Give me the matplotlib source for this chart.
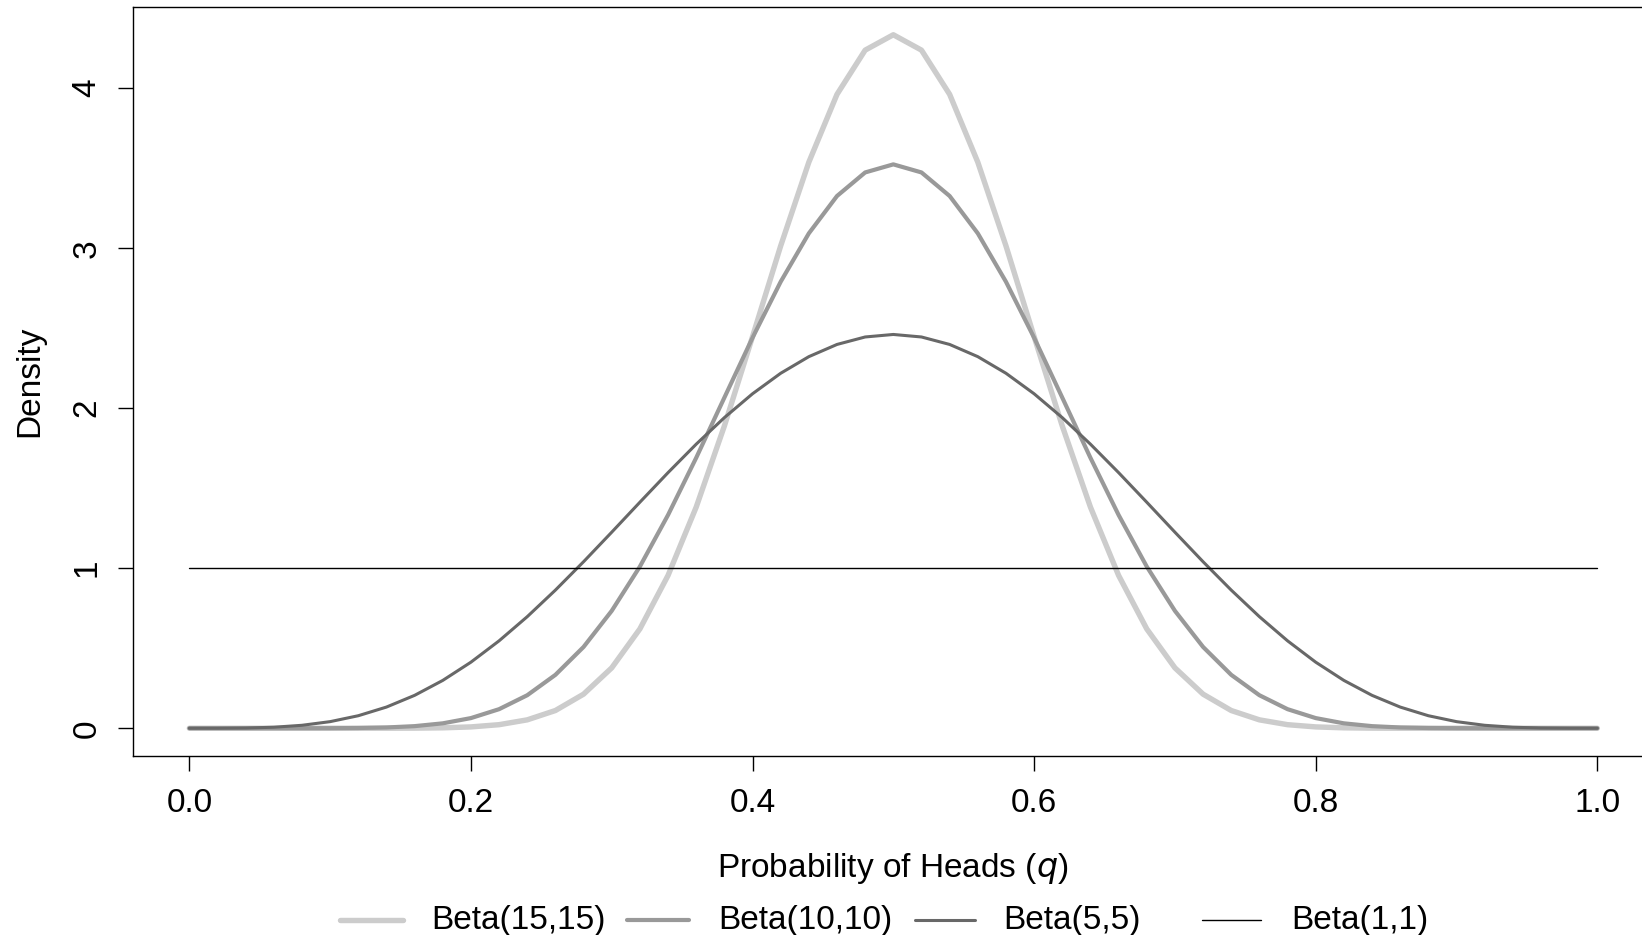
import matplotlib
matplotlib.use("Agg")
import matplotlib.pyplot as plt
import numpy as np
from matplotlib.lines import Line2D

plt.rcParams["font.family"] = ["Liberation Sans", "DejaVu Sans"]

# probability grid and densities
q = np.linspace(0, 1, 51)

beta_15_15 = [
    0, 0, 0, 0, 0, 0, 0, 0.0002, 0.0007, 0.0027, 0.0084, 0.0223, 0.0525,
    0.1108, 0.2131, 0.3774, 0.6208, 0.9551, 1.382, 1.8888, 2.4473, 3.0145,
    3.5375, 3.9614, 4.2377, 4.3339, 4.2377, 3.9614, 3.5375, 3.0145, 2.4473,
    1.8888, 1.382, 0.9551, 0.6208, 0.3774, 0.2131, 0.1108, 0.0525, 0.0223,
    0.0084, 0.0027, 0.0007, 0.0002, 0, 0, 0, 0, 0, 0, 0,
]
beta_10_10 = [
    0, 0, 0, 0, 0.0001, 0.0004, 0.0015, 0.0049, 0.0132, 0.0307, 0.0635,
    0.1192, 0.2064, 0.3337, 0.5081, 0.7337, 1.0104, 1.3328, 1.6901, 2.0661,
    2.4404, 2.7903, 3.0927, 3.3261, 3.4734, 3.5239, 3.4734, 3.3261, 3.0927,
    2.7903, 2.4404, 2.0661, 1.6901, 1.3328, 1.0104, 0.7337, 0.5081, 0.3337,
    0.2064, 0.1192, 0.0635, 0.0307, 0.0132, 0.0049, 0.0015, 0.0004, 0.0001,
    0, 0, 0, 0,
]
beta_5_5 = [
    0, 0.0001, 0.0014, 0.0064, 0.0185, 0.0413, 0.0783, 0.1324, 0.2056,
    0.299, 0.4129, 0.5463, 0.6973, 0.8633, 1.0406, 1.2252, 1.4125, 1.5975,
    1.7753, 1.9411, 2.0902, 2.2184, 2.3222, 2.3985, 2.4452, 2.4609, 2.4452,
    2.3985, 2.3222, 2.2184, 2.0902, 1.9411, 1.7753, 1.5975, 1.4125, 1.2252,
    1.0406, 0.8633, 0.6973, 0.5463, 0.4129, 0.299, 0.2056, 0.1324, 0.0783,
    0.0413, 0.0185, 0.0064, 0.0014, 0.0001, 0,
]
beta_1_1 = [1.0] * 51

labels = ["Beta(15,15)", "Beta(10,10)", "Beta(5,5)", "Beta(1,1)"]
series = [beta_15_15, beta_10_10, beta_5_5, beta_1_1]
colors = ["#cccccc", "#999999", "#686868", "#000000"]
widths = [3.9, 3.0, 2.2, 1.0]

W, H = 1642, 935
FS = 24
fig = plt.figure(figsize=(W / 100, H / 100), dpi=100)
ax = fig.add_axes([133 / W, 1 - 756 / H, 1.08 * 1408 / W, 749 / H])

for y, c, lw in zip(series, colors, widths):
    ax.plot(q, y, color=c, lw=lw, solid_capstyle="round", solid_joinstyle="round")

ax.set_xlim(-0.04, 1.04)
ax.set_ylim(-0.1734, 4.5073)
ax.set_xticks([0, 0.2, 0.4, 0.6, 0.8, 1.0], ["0.0", "0.2", "0.4", "0.6", "0.8", "1.0"])
ax.set_yticks([0, 1, 2, 3, 4])
for lab in ax.get_yticklabels():
    lab.set_rotation(90)
    lab.set_va("center")
ax.tick_params(length=11, width=1.0, labelsize=FS, color="black")
ax.tick_params(axis="x", pad=12)
ax.tick_params(axis="y", pad=11)
for s in ax.spines.values():
    s.set_linewidth(1.0)

ax.set_xlabel("Probability of Heads ($q$)", fontsize=FS, va="center")
ax.xaxis.set_label_coords((893 - 133) / (1.08 * 1408), (756 - 869) / 749)
ax.set_ylabel("Density", fontsize=FS, va="center")
ax.yaxis.set_label_coords((30 - 133) / (1.08 * 1408), 0.5)

# legend along the bottom
line_x = [(340, 403), (627, 689), (915, 975), (1202, 1261)]
text_x = [431, 718, 1003, 1291]
ly = 1 - 920 / H
for (x0, x1), tx, lab, c, lw in zip(line_x, text_x, labels, colors, widths):
    fig.add_artist(Line2D([x0 / W, x1 / W], [ly, ly], transform=fig.transFigure,
                          color=c, lw=lw, solid_capstyle="round"))
    fig.text(tx / W, ly, lab, fontsize=FS, va="center", ha="left")

fig.savefig("out.png", dpi=100)
